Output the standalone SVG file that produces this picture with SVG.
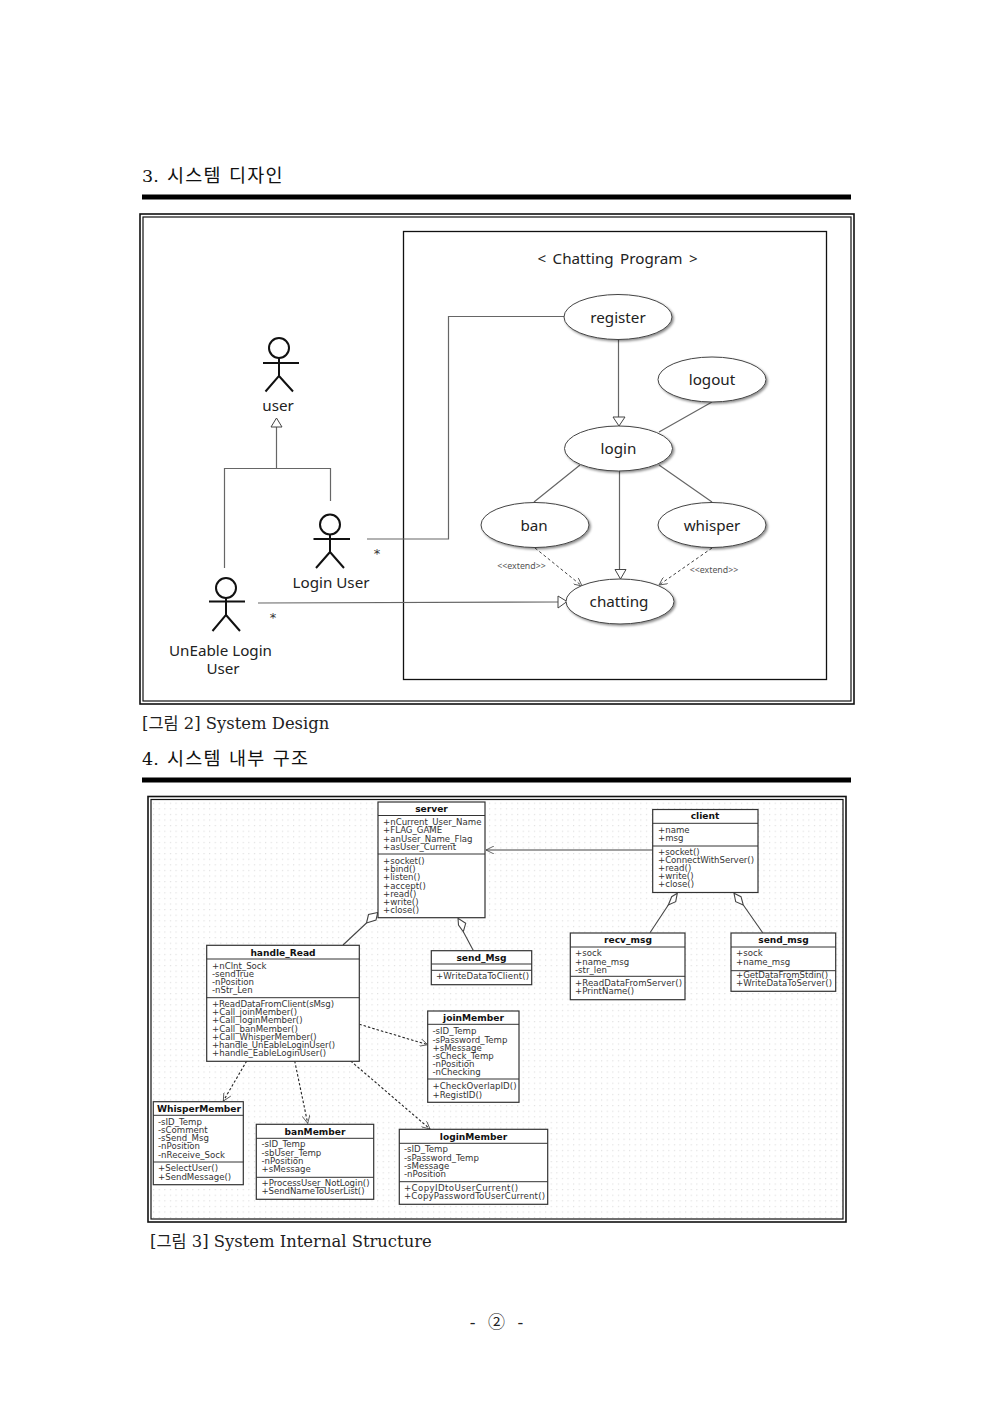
<svg xmlns="http://www.w3.org/2000/svg" width="992" height="1403" viewBox="0 0 992 1403">
<style>
.h{font-family:"DejaVu Serif","Noto Sans CJK KR",serif;font-size:17.5px;fill:#111}
.hk{font-family:"Noto Sans CJK KR",sans-serif;font-size:18.5px;fill:#111;font-weight:400;letter-spacing:1.2px;word-spacing:2px}
.cap{font-family:"DejaVu Serif","Noto Sans CJK KR",serif;font-size:16.4px;fill:#222}
.pg{font-family:"DejaVu Serif","Noto Sans CJK KR",serif;font-size:17px;fill:#222;word-spacing:7px;text-anchor:middle}
.a{fill:none;stroke:#111;stroke-width:2}
.uc{font-family:"Noto Sans","Noto Sans CJK KR",sans-serif;font-size:15.2px;fill:#222;text-anchor:middle}
.st{font-family:"DejaVu Sans",sans-serif;font-size:13px;fill:#333;text-anchor:middle}
.ex{font-family:"Noto Sans",sans-serif;font-size:8.8px;fill:#555;text-anchor:middle}
.e{fill:#fff;stroke:#444;stroke-width:1;filter:url(#sh)}
.g{fill:none;stroke:#666;stroke-width:1.2}
.gd{fill:none;stroke:#444;stroke-width:1;stroke-dasharray:3 2.5}
.tri{fill:#fff;stroke:#444;stroke-width:1}
.box{fill:#fff;stroke:#333;stroke-width:1.2}
.ln{stroke:#333;stroke-width:1}
.t{font-family:"DejaVu Sans",sans-serif;font-size:8.6px;fill:#333}
.n{font-family:"DejaVu Sans",sans-serif;font-size:9.1px;fill:#111;font-weight:700;text-anchor:middle}
.c{fill:none;stroke:#444;stroke-width:1.1}
.cd{fill:none;stroke:#222;stroke-width:1.1;stroke-dasharray:2.5 2}
.dm{fill:#fff;stroke:#444;stroke-width:1.1}
</style>
<defs>
<filter id="sh" x="-10%" y="-15%" width="125%" height="140%"><feDropShadow dx="1.5" dy="1.5" stdDeviation="1.2" flood-color="#000" flood-opacity="0.45"/></filter>
<marker id="op" viewBox="0 0 10 10" refX="10" refY="5" markerWidth="10" markerHeight="8" orient="auto" markerUnits="userSpaceOnUse"><path d="M0 0L10 5L0 10" fill="none" stroke="#444" stroke-width="1"/></marker>
<pattern id="dots" width="5.6" height="5.6" patternUnits="userSpaceOnUse"><rect x="2" y="2" width="1" height="1" fill="#d4d4d4"/></pattern>
</defs>
<rect width="992" height="1403" fill="#fff"/>

<g id="section3-heading">
<text class="h" x="142" y="182">3.</text><text class="hk" x="167" y="182">시스템 디자인</text>
<rect x="142" y="194.500" width="709" height="5" fill="#000"/>
</g>
<g id="frame-design">
<rect x="140" y="214" width="714" height="490" fill="#fff" stroke="#111" stroke-width="1.6"/>
<rect x="143" y="217" width="708" height="484" fill="none" stroke="#111" stroke-width="1.2"/>
<rect x="403.500" y="231.500" width="423" height="448" fill="none" stroke="#111" stroke-width="1.3"/>
<text class="uc" x="617.500" y="264" word-spacing="2.5">&lt; Chatting Program &gt;</text>
</g>

<g id="uc-connectors">
<path class="g" d="M564 316.500H448.500V539H367"/>
<path class="g" d="M276.500 427V468.500M224.500 568V468.500H330.500V501"/>
<path class="g" d="M258 603L558 602"/>
<path class="g" d="M618.500 340V417M712 402L659 432M580 465L534 502M619.500 471V570M659 465L712 502"/>
<path class="gd" d="M535 548L582 586" marker-end="url(#op)"/>
<path class="gd" d="M712 548L659 585" marker-end="url(#op)"/>
<path class="tri" d="M276.500 418L282 427H271Z"/>
<path class="tri" d="M567 601.500L558 596V608Z"/>
<path class="tri" d="M619 426L613 417H625Z"/>
<path class="tri" d="M620.500 579L615 569.500H626Z"/>
</g>

<g id="actor-user"><circle class="a" cx="279" cy="348" r="10"/><path class="a" d="M263 363H299M279 358V376L265.500 391.500M279 376L293 391.500"/><text class="uc" x="278" y="411">user</text></g>
<g id="actor-login-user"><circle class="a" cx="330" cy="524.500" r="10"/><path class="a" d="M313.500 539H350M330 534.500V552L316 568M330 552L344 568"/><text class="uc" x="331" y="588">Login User</text><text class="st" x="377" y="558">*</text></g>
<g id="actor-unable-user"><circle class="a" cx="226" cy="588" r="10"/><path class="a" d="M209 601.500H245M226 598V615L212.500 631M226 615L240 631"/><text class="uc" x="220.500" y="656">UnEable Login</text><text class="uc" x="223" y="674">User</text><text class="st" x="273" y="622">*</text></g>

<g id="uc-register"><ellipse class="e" cx="618" cy="317" rx="54" ry="22.500"/><text class="uc" x="618" y="323">register</text></g>
<g id="uc-logout"><ellipse class="e" cx="712" cy="379.500" rx="54" ry="22.500"/><text class="uc" x="712" y="385">logout</text></g>
<g id="uc-login"><ellipse class="e" cx="618.500" cy="448.500" rx="54" ry="22.500"/><text class="uc" x="618.500" y="454">login</text></g>
<g id="uc-ban"><ellipse class="e" cx="535" cy="525" rx="54" ry="22.500"/><text class="uc" x="534" y="531">ban</text></g>
<g id="uc-whisper"><ellipse class="e" cx="712" cy="525" rx="54" ry="22.500"/><text class="uc" x="712" y="531">whisper</text></g>
<g id="uc-chatting"><ellipse class="e" cx="620" cy="601.500" rx="54" ry="22.500"/><text class="uc" x="619" y="607">chatting</text></g>
<text class="ex" x="521.500" y="569">&lt;&lt;extend&gt;&gt;</text>
<text class="ex" x="714" y="573">&lt;&lt;extend&gt;&gt;</text>

<g id="caption-2"><text class="cap" x="142" y="729">[그림 2] System Design</text></g>

<g id="section4-heading">
<text class="h" x="142" y="765">4.</text><text class="hk" x="167" y="765">시스템 내부 구조</text>
<rect x="142" y="777.500" width="709" height="5" fill="#000"/>
</g>
<g id="frame-structure">
<rect x="148" y="796.500" width="698" height="425.500" fill="#fff" stroke="#111" stroke-width="1.6"/>
<rect x="151" y="799.500" width="692" height="419.500" fill="url(#dots)" stroke="#111" stroke-width="1.2"/>
</g>

<g id="class-connectors">
<path class="c" d="M652.700 850H486" marker-end="url(#op)"/>
<path class="c" d="M343 945L366.500 923"/>
<path class="dm" d="M377.700 912.500L368.500 914.500L366.500 923L376 920Z"/>
<path class="c" d="M473.300 950.500L463.300 931.700"/>
<path class="dm" d="M458 918.300L458.500 925L463.300 931.700L465.700 923.300Z"/>
<path class="c" d="M650 932.700L668.300 905"/>
<path class="dm" d="M677.300 893.300L671.700 896.700L668.300 905L675.700 901.700Z"/>
<path class="c" d="M762.700 932.700L743.300 905"/>
<path class="dm" d="M734 893.300L735.700 901.700L743.300 905L741 896.700Z"/>
<path class="cd" d="M359.300 1024.300L427.700 1044.700" marker-end="url(#op)"/>
<path class="cd" d="M246.700 1061L223.300 1101" marker-end="url(#op)"/>
<path class="cd" d="M294.700 1061L307.700 1123.300" marker-end="url(#op)"/>
<path class="cd" d="M350.700 1061L430 1129" marker-end="url(#op)"/>
</g>

<g id="class-server"><rect class="box" x="378" y="802" width="107" height="115.700"/><path class="ln" d="M378 815.500H485M378 854H485"/><text class="n" x="431.500" y="811.500">server</text>
<text class="t" x="383" y="825">+nCurrent_User_Name</text><text class="t" x="383" y="833">+FLAG_GAME</text><text class="t" x="383" y="841.500">+anUser_Name_Flag</text><text class="t" x="383" y="849.700">+asUser_Current</text>
<text class="t" x="383" y="864">+socket()</text><text class="t" x="383" y="872">+bind()</text><text class="t" x="383" y="880">+listen()</text><text class="t" x="383" y="888.500">+accept()</text><text class="t" x="383" y="896.500">+read()</text><text class="t" x="383" y="905">+write()</text><text class="t" x="383" y="913">+close()</text></g>

<g id="class-client"><rect class="box" x="652.700" y="809.500" width="105.300" height="83"/><path class="ln" d="M652.700 823.300H758M652.700 846H758"/><text class="n" x="705" y="819">client</text>
<text class="t" x="658" y="832.700">+name</text><text class="t" x="658" y="840.700">+msg</text>
<text class="t" x="658" y="854.700">+socket()</text><text class="t" x="658" y="862.700" textLength="96">+ConnectWithServer()</text><text class="t" x="658" y="871">+read()</text><text class="t" x="658" y="879">+write()</text><text class="t" x="658" y="887">+close()</text></g>

<g id="class-handle-read"><rect class="box" x="206.700" y="945.300" width="152.600" height="116"/><path class="ln" d="M206.700 959H359.300M206.700 997.700H359.300"/><text class="n" x="283" y="955.500">handle_Read</text>
<text class="t" x="212" y="968.700">+nClnt_Sock</text><text class="t" x="212" y="977">-sendTrue</text><text class="t" x="212" y="985">-nPosition</text><text class="t" x="212" y="993.300">-nStr_Len</text>
<text class="t" x="212" y="1007" textLength="122">+ReadDataFromClient(sMsg)</text><text class="t" x="212" y="1015">+Call_joinMember()</text><text class="t" x="212" y="1023">+Call_loginMember()</text><text class="t" x="212" y="1031.500">+Call_banMember()</text><text class="t" x="212" y="1039.500">+Call_WhisperMember()</text><text class="t" x="212" y="1048" textLength="123">+handle_UnEableLoginUser()</text><text class="t" x="212" y="1056">+handle_EableLoginUser()</text></g>

<g id="class-send-Msg"><rect class="box" x="431.300" y="950.700" width="100.400" height="34"/><path class="ln" d="M431.300 964H531.700M431.300 970.300H531.700"/><text class="n" x="481.500" y="960.500">send_Msg</text><text class="t" x="436" y="979.300" textLength="93">+WriteDataToClient()</text></g>

<g id="class-recv-msg"><rect class="box" x="570.300" y="933" width="114.700" height="66.700"/><path class="ln" d="M570.300 947H685M570.300 976.300H685"/><text class="n" x="628" y="943">recv_msg</text>
<text class="t" x="575" y="956">+sock</text><text class="t" x="575" y="964.500">+name_msg</text><text class="t" x="575" y="972.500">-str_len</text><text class="t" x="575" y="985.700" textLength="107">+ReadDataFromServer()</text><text class="t" x="575" y="994">+PrintName()</text></g>

<g id="class-send-msg"><rect class="box" x="731" y="933" width="104.700" height="58.300"/><path class="ln" d="M731 947H835.700M731 970.700H835.700"/><text class="n" x="783.500" y="943">send_msg</text>
<text class="t" x="736" y="956">+sock</text><text class="t" x="736" y="964.500">+name_msg</text><text class="t" x="736" y="977.700" textLength="92">+GetDataFromStdin()</text><text class="t" x="736" y="986" textLength="96">+WriteDataToServer()</text></g>

<g id="class-joinMember"><rect class="box" x="427.700" y="1011" width="91.300" height="91.300"/><path class="ln" d="M427.700 1024.300H519M427.700 1079H519"/><text class="n" x="473.500" y="1021">joinMember</text>
<text class="t" x="432.500" y="1034.300">-sID_Temp</text><text class="t" x="432.500" y="1042.500">-sPassword_Temp</text><text class="t" x="432.500" y="1050.700">+sMessage</text><text class="t" x="432.500" y="1059">-sCheck_Temp</text><text class="t" x="432.500" y="1067">-nPosition</text><text class="t" x="432.500" y="1075.300">-nChecking</text><text class="t" x="432.500" y="1089" textLength="84">+CheckOverlapID()</text><text class="t" x="432.500" y="1097.500">+RegistID()</text></g>

<g id="class-WhisperMember"><rect class="box" x="153.300" y="1101.700" width="90" height="83"/><path class="ln" d="M153.300 1115.300H243.300M153.300 1162H243.300"/><text class="n" x="199" y="1111.500">WhisperMember</text>
<text class="t" x="158" y="1124.700">-sID_Temp</text><text class="t" x="158" y="1133">-sComment</text><text class="t" x="158" y="1141">-sSend_Msg</text><text class="t" x="158" y="1149">-nPosition</text><text class="t" x="158" y="1157.500">-nReceive_Sock</text><text class="t" x="158" y="1171.300">+SelectUser()</text><text class="t" x="158" y="1179.500">+SendMessage()</text></g>

<g id="class-banMember"><rect class="box" x="256.300" y="1124.300" width="117.400" height="75"/><path class="ln" d="M256.300 1138.300H373.700M256.300 1177.300H373.700"/><text class="n" x="315" y="1134.500">banMember</text>
<text class="t" x="261.500" y="1147.300">-sID_Temp</text><text class="t" x="261.500" y="1155.500">-sbUser_Temp</text><text class="t" x="261.500" y="1163.500">-nPosition</text><text class="t" x="261.500" y="1172">+sMessage</text><text class="t" x="261.500" y="1185.700" textLength="108">+ProcessUser_NotLogin()</text><text class="t" x="261.500" y="1194" textLength="103">+SendNameToUserList()</text></g>

<g id="class-loginMember"><rect class="box" x="399.300" y="1129.300" width="148.400" height="75"/><path class="ln" d="M399.300 1143.300H547.700M399.300 1181.700H547.700"/><text class="n" x="473.500" y="1139.500">loginMember</text>
<text class="t" x="404" y="1152.300">-sID_Temp</text><text class="t" x="404" y="1160.500">-sPassword_Temp</text><text class="t" x="404" y="1168.500">-sMessage</text><text class="t" x="404" y="1177">-nPosition</text><text class="t" x="404" y="1190.700" textLength="114">+CopyIDtoUserCurrent()</text><text class="t" x="404" y="1199" textLength="141">+CopyPasswordToUserCurrent()</text></g>

<g id="caption-3"><text class="cap" x="150" y="1247">[그림 3] System Internal Structure</text></g>
<g id="page-number"><text class="pg" x="496.500" y="1328">- ② -</text></g>
</svg>
